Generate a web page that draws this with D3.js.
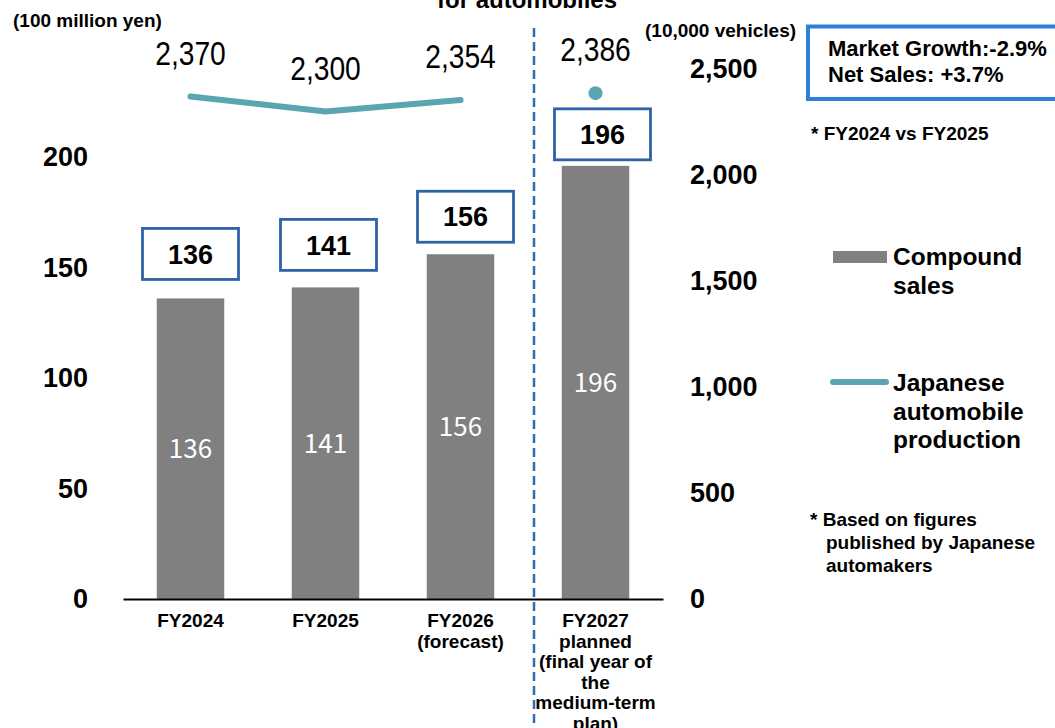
<!DOCTYPE html>
<html>
<head>
<meta charset="utf-8">
<script src="https://cdn.jsdelivr.net/npm/d3@7"></script>
<style>
  html, body { margin: 0; padding: 0; background: #fff; }
  svg { display: block; }
  text { font-family: "Liberation Sans", Arial, sans-serif; fill: #000; }
</style>
</head>
<body>
<svg id="chart" width="1055" height="728"></svg>
<script>
// ---- data ----
const categories = ["FY2024", "FY2025", "FY2026", "FY2027"];
const categoryLines = [
  ["FY2024"],
  ["FY2025"],
  ["FY2026", "(forecast)"],
  ["FY2027", "planned", "(final year of", "the", "medium-term", "plan)"]
];
const compoundSales = [136, 141, 156, 196];          // 100 million yen
const autoProduction = [2370, 2300, 2354, 2386];      // 10,000 vehicles
const productionLabels = ["2,370", "2,300", "2,354", "2,386"];
const leftTicks = [0, 50, 100, 150, 200];
const rightTicks = [0, 500, 1000, 1500, 2000, 2500];
const plannedIndex = 3;                               // FY2027 is the plan year

// ---- layout ----
const W = 1055, H = 728;
const plotLeft = 123, plotRight = 663;
const baseY = 599;
const calloutGap = [19, 17, 12, 6];
const calloutShift = [0, 3, 5, 7];
const colors = {
  bar: "#808080",
  line: "#5BA5B2",
  callout: "#2E63A5",
  divider: "#2E6EB6",
  infoBox: "#2F80D8"
};

const svg = d3.select("#chart");

const x = d3.scaleBand()
  .domain(categories)
  .range([plotLeft, plotRight])
  .paddingInner(0.5)
  .paddingOuter(0.25);

const yL = d3.scaleLinear().domain([0, 200]).range([baseY, 157]);
const yR = d3.scaleLinear().domain([0, 2500]).range([baseY, 69]);
const cx = c => x(c) + x.bandwidth() / 2;

// title (second line of a two-line heading)
svg.append("text")
  .attr("x", 527).attr("y", 8)
  .attr("text-anchor", "middle")
  .style("font-size", "24px").style("font-weight", "bold")
  .text("for automobiles");

// unit labels
svg.append("text")
  .attr("x", 13).attr("y", 27)
  .style("font-size", "19px").style("font-weight", "bold")
  .text("(100 million yen)");
svg.append("text")
  .attr("x", 645).attr("y", 37)
  .style("font-size", "19px").style("font-weight", "bold")
  .text("(10,000 vehicles)");

// divider between forecast and plan
svg.append("line")
  .attr("x1", 534).attr("x2", 534)
  .attr("y1", 28).attr("y2", H)
  .attr("stroke", colors.divider)
  .attr("stroke-width", 2.5)
  .attr("stroke-dasharray", "9,5");

// bars
svg.append("g").selectAll("rect")
  .data(categories)
  .join("rect")
  .attr("x", d => x(d))
  .attr("y", (d, i) => yL(compoundSales[i]))
  .attr("width", x.bandwidth())
  .attr("height", (d, i) => baseY - yL(compoundSales[i]))
  .attr("fill", colors.bar);

// values inside the bars
svg.append("g").selectAll("text")
  .data(categories)
  .join("text")
  .attr("x", d => cx(d))
  .attr("y", (d, i) => (yL(compoundSales[i]) + baseY) / 2)
  .attr("dy", "0.36em")
  .attr("text-anchor", "middle")
  .style("font-family", "'Noto Sans CJK JP', 'Noto Sans', sans-serif")
  .style("font-size", "26px")
  .style("fill", "#ffffff")
  .text((d, i) => compoundSales[i]);

// callout boxes above the bars
const boxW = 96, boxH = 51;
const callouts = svg.append("g").selectAll("g")
  .data(categories)
  .join("g")
  .attr("transform", (d, i) =>
    `translate(${cx(d) + calloutShift[i] - boxW / 2},${yL(compoundSales[i]) - calloutGap[i] - boxH})`);
callouts.append("rect")
  .attr("width", boxW).attr("height", boxH)
  .attr("fill", "#fff")
  .attr("stroke", colors.callout)
  .attr("stroke-width", 2.8);
callouts.append("text")
  .attr("x", boxW / 2).attr("y", boxH / 2)
  .attr("dy", "0.36em")
  .attr("text-anchor", "middle")
  .style("font-size", "27px").style("font-weight", "bold")
  .text((d, i) => compoundSales[i]);

// production line (results and forecast) and plan marker
const lineCats = categories.filter((d, i) => i < plannedIndex);
svg.append("path")
  .datum(lineCats)
  .attr("fill", "none")
  .attr("stroke", colors.line)
  .attr("stroke-width", 6)
  .attr("stroke-linecap", "round")
  .attr("stroke-linejoin", "round")
  .attr("d", d3.line()
    .x(d => cx(d))
    .y(d => yR(autoProduction[categories.indexOf(d)])));

svg.append("circle")
  .attr("cx", cx(categories[plannedIndex]))
  .attr("cy", yR(autoProduction[plannedIndex]))
  .attr("r", 7)
  .attr("fill", colors.line);

// production values, set in a condensed face
svg.append("g").selectAll("text")
  .data(categories)
  .join("text")
  .attr("transform", (d, i) => `translate(${cx(d)},${yR(autoProduction[i]) - 44}) scale(0.83,1)`)
  .attr("dy", "0.36em")
  .attr("text-anchor", "middle")
  .style("font-family", "'Liberation Sans', Arial, sans-serif")
  .style("font-size", "34px")
  .text((d, i) => productionLabels[i]);

// left axis
const gL = svg.append("g")
  .attr("transform", "translate(88,0)")
  .call(d3.axisLeft(yL).tickValues(leftTicks).tickSize(0).tickPadding(0));
gL.select(".domain").remove();
gL.selectAll("text")
  .style("font-family", "'Liberation Sans', Arial, sans-serif")
  .style("font-size", "27px").style("font-weight", "bold")
  .attr("fill", "#000");

// right axis
const gR = svg.append("g")
  .attr("transform", "translate(690,0)")
  .call(d3.axisRight(yR).tickValues(rightTicks).tickFormat(d3.format(",")).tickSize(0).tickPadding(0));
gR.select(".domain").remove();
gR.selectAll("text")
  .style("font-family", "'Liberation Sans', Arial, sans-serif")
  .style("font-size", "27px").style("font-weight", "bold")
  .attr("fill", "#000");

// category axis
const gX = svg.append("g")
  .attr("transform", `translate(0,${baseY})`)
  .call(d3.axisBottom(x).tickSize(0).tickSizeOuter(0).tickFormat(""));
gX.select(".domain").attr("stroke", "#000").attr("stroke-width", 2);
gX.selectAll(".tick text").remove();
gX.selectAll(".tick").each(function (d, i) {
  const t = d3.select(this).append("text")
    .attr("text-anchor", "middle")
    .style("font-size", "19px").style("font-weight", "bold")
    .attr("fill", "#000");
  categoryLines[i].forEach((line, k) => {
    t.append("tspan").attr("x", 0).attr("y", 28 + k * 20.5).text(line);
  });
});

// growth summary box
svg.append("rect")
  .attr("x", 808).attr("y", 26.5)
  .attr("width", 270).attr("height", 72.5)
  .attr("fill", "#fff")
  .attr("stroke", colors.infoBox)
  .attr("stroke-width", 4);
svg.append("text").attr("x", 828).attr("y", 56)
  .style("font-size", "22px").style("font-weight", "bold")
  .text("Market Growth:-2.9%");
svg.append("text").attr("x", 828).attr("y", 82)
  .style("font-size", "22px").style("font-weight", "bold")
  .text("Net Sales: +3.7%");
svg.append("text").attr("x", 811).attr("y", 140)
  .style("font-size", "19px").style("font-weight", "bold")
  .text("* FY2024 vs FY2025");

// legend
const legend = svg.append("g");
legend.append("rect")
  .attr("x", 833).attr("y", 251).attr("width", 54).attr("height", 12)
  .attr("fill", colors.bar);
legend.append("text").attr("x", 893)
  .style("font-size", "24.5px").style("font-weight", "bold")
  .selectAll("tspan").data(["Compound", "sales"]).join("tspan")
  .attr("x", 893).attr("y", (d, k) => 265 + k * 28.5).text(d => d);
legend.append("line")
  .attr("x1", 833).attr("x2", 886).attr("y1", 382).attr("y2", 382)
  .attr("stroke", colors.line).attr("stroke-width", 6)
  .attr("stroke-linecap", "round");
legend.append("text")
  .style("font-size", "24.5px").style("font-weight", "bold")
  .selectAll("tspan").data(["Japanese", "automobile", "production"]).join("tspan")
  .attr("x", 893).attr("y", (d, k) => 391 + k * 28.5).text(d => d);

// source note
const note = svg.append("text")
  .style("font-size", "19px").style("font-weight", "bold");
[["* Based on figures", 810], ["published by Japanese", 826], ["automakers", 826]]
  .forEach(([s, nx], k) => {
    note.append("tspan").attr("x", nx).attr("y", 526 + k * 23).text(s);
  });
</script>
</body>
</html>
